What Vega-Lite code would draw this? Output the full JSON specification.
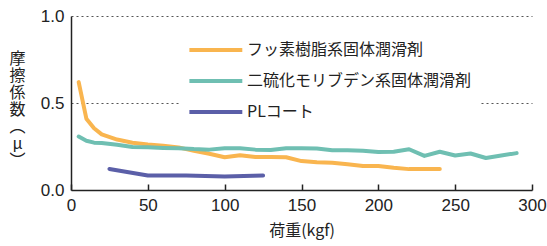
{
  "$schema": "https://vega.github.io/schema/vega-lite/v6.json",
  "width": 461,
  "height": 174,
  "autosize": "none",
  "padding": {"left": 71, "top": 16, "right": 15, "bottom": 56},
  "background": "white",
  "config": {"view": {"stroke": null}},
  "datasets": {
    "d": [
      {"s": "フッ素樹脂系固体潤滑剤", "x": 5, "y": 0.62},
      {"s": "フッ素樹脂系固体潤滑剤", "x": 10, "y": 0.41},
      {"s": "フッ素樹脂系固体潤滑剤", "x": 15, "y": 0.355},
      {"s": "フッ素樹脂系固体潤滑剤", "x": 20, "y": 0.32},
      {"s": "フッ素樹脂系固体潤滑剤", "x": 30, "y": 0.29},
      {"s": "フッ素樹脂系固体潤滑剤", "x": 40, "y": 0.272},
      {"s": "フッ素樹脂系固体潤滑剤", "x": 50, "y": 0.262},
      {"s": "フッ素樹脂系固体潤滑剤", "x": 60, "y": 0.255},
      {"s": "フッ素樹脂系固体潤滑剤", "x": 70, "y": 0.245},
      {"s": "フッ素樹脂系固体潤滑剤", "x": 80, "y": 0.225},
      {"s": "フッ素樹脂系固体潤滑剤", "x": 90, "y": 0.208},
      {"s": "フッ素樹脂系固体潤滑剤", "x": 100, "y": 0.188},
      {"s": "フッ素樹脂系固体潤滑剤", "x": 110, "y": 0.2},
      {"s": "フッ素樹脂系固体潤滑剤", "x": 120, "y": 0.19},
      {"s": "フッ素樹脂系固体潤滑剤", "x": 130, "y": 0.19},
      {"s": "フッ素樹脂系固体潤滑剤", "x": 140, "y": 0.188},
      {"s": "フッ素樹脂系固体潤滑剤", "x": 150, "y": 0.166},
      {"s": "フッ素樹脂系固体潤滑剤", "x": 160, "y": 0.16},
      {"s": "フッ素樹脂系固体潤滑剤", "x": 170, "y": 0.156},
      {"s": "フッ素樹脂系固体潤滑剤", "x": 180, "y": 0.148},
      {"s": "フッ素樹脂系固体潤滑剤", "x": 190, "y": 0.138},
      {"s": "フッ素樹脂系固体潤滑剤", "x": 200, "y": 0.138},
      {"s": "フッ素樹脂系固体潤滑剤", "x": 210, "y": 0.128},
      {"s": "フッ素樹脂系固体潤滑剤", "x": 220, "y": 0.12},
      {"s": "フッ素樹脂系固体潤滑剤", "x": 230, "y": 0.12},
      {"s": "フッ素樹脂系固体潤滑剤", "x": 240, "y": 0.12},
      {"s": "二硫化モリブデン系固体潤滑剤", "x": 5, "y": 0.307},
      {"s": "二硫化モリブデン系固体潤滑剤", "x": 10, "y": 0.283},
      {"s": "二硫化モリブデン系固体潤滑剤", "x": 15, "y": 0.272},
      {"s": "二硫化モリブデン系固体潤滑剤", "x": 20, "y": 0.27},
      {"s": "二硫化モリブデン系固体潤滑剤", "x": 30, "y": 0.26},
      {"s": "二硫化モリブデン系固体潤滑剤", "x": 40, "y": 0.247},
      {"s": "二硫化モリブデン系固体潤滑剤", "x": 50, "y": 0.245},
      {"s": "二硫化モリブデン系固体潤滑剤", "x": 60, "y": 0.242},
      {"s": "二硫化モリブデン系固体潤滑剤", "x": 70, "y": 0.24},
      {"s": "二硫化モリブデン系固体潤滑剤", "x": 80, "y": 0.235},
      {"s": "二硫化モリブデン系固体潤滑剤", "x": 90, "y": 0.232},
      {"s": "二硫化モリブデン系固体潤滑剤", "x": 100, "y": 0.24},
      {"s": "二硫化モリブデン系固体潤滑剤", "x": 110, "y": 0.24},
      {"s": "二硫化モリブデン系固体潤滑剤", "x": 120, "y": 0.232},
      {"s": "二硫化モリブデン系固体潤滑剤", "x": 130, "y": 0.23},
      {"s": "二硫化モリブデン系固体潤滑剤", "x": 140, "y": 0.24},
      {"s": "二硫化モリブデン系固体潤滑剤", "x": 150, "y": 0.24},
      {"s": "二硫化モリブデン系固体潤滑剤", "x": 160, "y": 0.238},
      {"s": "二硫化モリブデン系固体潤滑剤", "x": 170, "y": 0.228},
      {"s": "二硫化モリブデン系固体潤滑剤", "x": 180, "y": 0.228},
      {"s": "二硫化モリブデン系固体潤滑剤", "x": 190, "y": 0.226},
      {"s": "二硫化モリブデン系固体潤滑剤", "x": 200, "y": 0.218},
      {"s": "二硫化モリブデン系固体潤滑剤", "x": 210, "y": 0.22},
      {"s": "二硫化モリブデン系固体潤滑剤", "x": 220, "y": 0.234},
      {"s": "二硫化モリブデン系固体潤滑剤", "x": 230, "y": 0.196},
      {"s": "二硫化モリブデン系固体潤滑剤", "x": 240, "y": 0.22},
      {"s": "二硫化モリブデン系固体潤滑剤", "x": 250, "y": 0.198},
      {"s": "二硫化モリブデン系固体潤滑剤", "x": 260, "y": 0.21},
      {"s": "二硫化モリブデン系固体潤滑剤", "x": 270, "y": 0.184},
      {"s": "二硫化モリブデン系固体潤滑剤", "x": 280, "y": 0.198},
      {"s": "二硫化モリブデン系固体潤滑剤", "x": 290, "y": 0.212},
      {"s": "PLコート", "x": 25, "y": 0.121},
      {"s": "PLコート", "x": 50, "y": 0.083},
      {"s": "PLコート", "x": 75, "y": 0.083},
      {"s": "PLコート", "x": 100, "y": 0.078},
      {"s": "PLコート", "x": 125, "y": 0.083}
    ]
  },
  "data": {"name": "d"},
  "mark": {"type": "line", "strokeWidth": 4, "strokeCap": "round", "strokeJoin": "round"},
  "encoding": {
    "x": {
      "field": "x", "type": "quantitative",
      "scale": {"domain": [0, 300], "nice": false, "zero": true},
      "axis": {
        "values": [0, 50, 100, 150, 200, 250, 300],
        "title": "荷重(kgf)",
        "titleFont": "Noto Sans CJK JP", "titleFontSize": 16, "titleFontWeight": "normal", "titleColor": "#222",
        "titlePadding": 9,
        "labelFont": "Liberation Sans", "labelFontSize": 17, "labelColor": "#222",
        "labelPadding": 13,
        "labelOverlap": false, "labelFlush": false,
        "grid": false,
        "domainColor": "#222", "domainWidth": 1.5,
        "tickColor": "#222", "tickSize": -6, "tickWidth": 1.5
      }
    },
    "y": {
      "field": "y", "type": "quantitative",
      "scale": {"domain": [0, 1], "nice": false},
      "axis": {
        "values": [0, 0.5, 1],
        "format": ".1f",
        "title": ["摩", "擦", "係", "数", "︵", "μ", "︶"],
        "titleAngle": 0, "titleAlign": "center", "titleBaseline": "middle",
        "titleX": -54, "titleY": 42, "titleLineHeight": 17,
        "titleFont": "Noto Sans CJK JP", "titleFontSize": 16, "titleFontWeight": "normal", "titleColor": "#222",
        "labelFont": "Liberation Sans", "labelFontSize": 17, "labelColor": "#222",
        "labelPadding": 7,
        "ticks": false,
        "domainColor": "#222", "domainWidth": 1.5,
        "grid": true, "gridColor": "#555", "gridDash": [2, 3], "gridWidth": 1,
        "gridOpacity": {"condition": {"test": "datum.value === 0", "value": 0}, "value": 1}
      }
    },
    "color": {
      "field": "s", "type": "nominal",
      "sort": ["フッ素樹脂系固体潤滑剤", "二硫化モリブデン系固体潤滑剤", "PLコート"],
      "scale": {
        "domain": ["フッ素樹脂系固体潤滑剤", "二硫化モリブデン系固体潤滑剤", "PLコート"],
        "range": ["#F9B54F", "#6FBFB2", "#5B5FA8"]
      },
      "legend": {
        "title": null,
        "orient": "none",
        "legendX": 108,
        "legendY": 17,
        "fillColor": "white",
        "padding": 8,
        "symbolType": "M-1,0H7",
        "symbolSize": 175,
        "symbolStrokeWidth": 4,
        "rowPadding": 14,
        "labelFont": "Noto Sans CJK JP",
        "labelFontSize": 16,
        "labelColor": "#222",
        "labelOffset": 42,
        "labelLimit": 400
      }
    }
  }
}
